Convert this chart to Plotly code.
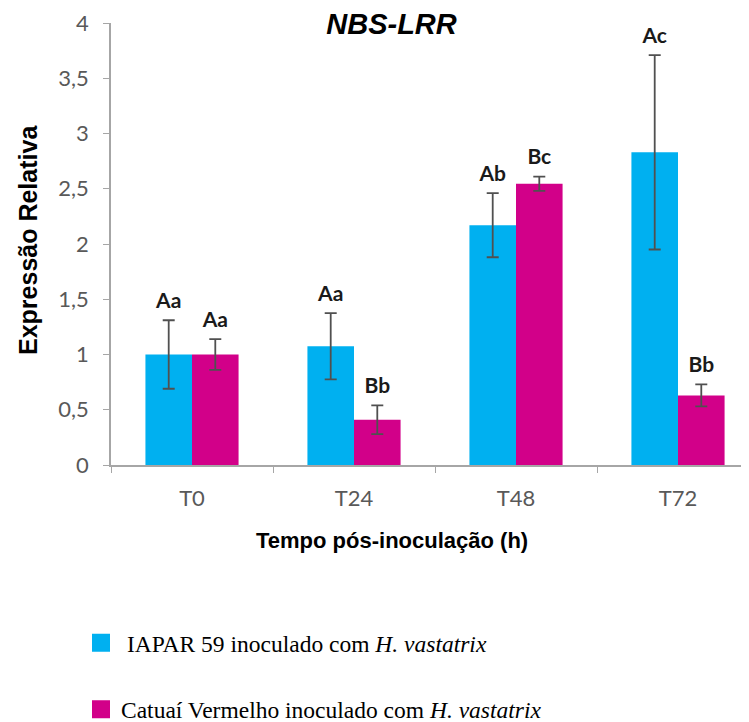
import plotly.graph_objects as go

categories = ["T0", "T24", "T48", "T72"]
iapar_mean = [1.00, 1.075, 2.17, 2.83]
iapar_err = [0.31, 0.30, 0.29, 0.88]
iapar_labels = ["Aa", "Aa", "Ab", "Ac"]
catuai_mean = [1.00, 0.41, 2.545, 0.63]
catuai_err = [0.14, 0.13, 0.065, 0.10]
catuai_labels = ["Aa", "Bb", "Bc", "Bb"]
ytick_vals = [0, 0.5, 1, 1.5, 2, 2.5, 3, 3.5, 4]
ytick_text = ["0", "0,5", "1", "1,5", "2", "2,5", "3", "3,5", "4"]

BLUE = "#00B0F0"
PINK = "#D20089"
ERR = "#505050"
AXIS = "#A6A6A6"
TICKFONT = dict(family="Lato", size=22, color="#595959")
LABELFONT = dict(family="Lato", size=21, color="#1a1a1a", weight="bold")

# page body has an 8px margin: figure coordinates = page coordinates - 8
OFF = 8
W, H = 749, 722
L, T, B = 111 - OFF, 23 - OFF, 465 - OFF   # plot area edges (figure px)
PW, PH = W - L, B - T

fig = go.Figure()

series = [
    ("&nbsp;IAPAR 59 inoculado com <i>H. vastatrix</i>", iapar_mean, iapar_err, iapar_labels, BLUE, "g1"),
    ("Catuaí Vermelho inoculado com <i>H. vastatrix</i>", catuai_mean, catuai_err, catuai_labels, PINK, "g2"),
]

for name, mean, err, labels, color, grp in series:
    fig.add_trace(go.Bar(
        x=categories, y=mean, marker=dict(color=color, line=dict(width=0)),
        error_y=dict(type="data", array=err, visible=True, color=ERR, thickness=1.8, width=6),
        offsetgroup=grp, showlegend=False, hoverinfo="skip",
    ))
    fig.add_trace(go.Scatter(
        x=categories, y=[m + e for m, e in zip(mean, err)], mode="markers+text",
        marker=dict(size=10, color="rgba(0,0,0,0)"),
        text=labels, textposition="top center", textfont=LABELFONT,
        offsetgroup=grp, showlegend=False, hoverinfo="skip",
    ))
    fig.add_trace(go.Scatter(
        x=[None], y=[None], mode="markers", name=name, legendgroup=grp,
        marker=dict(symbol="square", size=16, color=color, line=dict(color=color, width=2)),
    ))

def px(xp):
    return (xp - OFF - L) / PW

def py(yp):
    return (B - (yp - OFF)) / PH

fig.update_layout(
    width=W, height=H,
    margin=dict(l=L, r=0, t=T, b=H - B, autoexpand=False),
    paper_bgcolor="white", plot_bgcolor="white",
    barmode="group", scattermode="group", bargap=0.425, bargroupgap=0,
    title=dict(text="<b><i>NBS-LRR</i></b>", x=(391.5 - OFF) / W, xref="container", xanchor="center",
               y=1 - (24 - OFF) / H, yref="container", yanchor="middle",
               font=dict(family="Liberation Sans", size=29, color="black")),
    xaxis=dict(range=[-0.5, -0.5 + PW / 162], showline=True, linecolor=AXIS, linewidth=1.5,
               ticks="outside", tickson="boundaries", ticklen=6, tickcolor=AXIS,
               ticklabelstandoff=13, tickangle=0,
               tickfont=TICKFONT, showgrid=False, zeroline=False, fixedrange=True),
    yaxis=dict(range=[0, 4], showline=True, linecolor=AXIS, linewidth=1.5,
               ticks="outside", ticklen=6, tickcolor=AXIS, ticklabelstandoff=10,
               tickvals=ytick_vals, ticktext=ytick_text, tickfont=TICKFONT,
               showgrid=False, zeroline=False),
    legend=dict(x=(81 - OFF) / W, y=1 - (621 - OFF) / H, xref="container", yref="container",
                xanchor="left", yanchor="top",
                font=dict(family="Liberation Serif", size=23.5, color="black"),
                itemsizing="trace", tracegroupgap=33, bgcolor="rgba(0,0,0,0)"),
    annotations=[
        dict(text="<b>Tempo pós-inoculação (h)</b>", xref="paper", yref="paper",
             x=px(392), y=py(540), xanchor="center", yanchor="middle",
             showarrow=False, font=dict(family="Liberation Sans", size=22, color="black")),
        dict(text="<b>Expressão Relativa</b>", xref="paper", yref="paper", textangle=-90,
             x=px(28), y=py(240), xanchor="center", yanchor="middle",
             showarrow=False, font=dict(family="Liberation Sans", size=25, color="black")),
    ],
)

fig.write_html("out.html")
